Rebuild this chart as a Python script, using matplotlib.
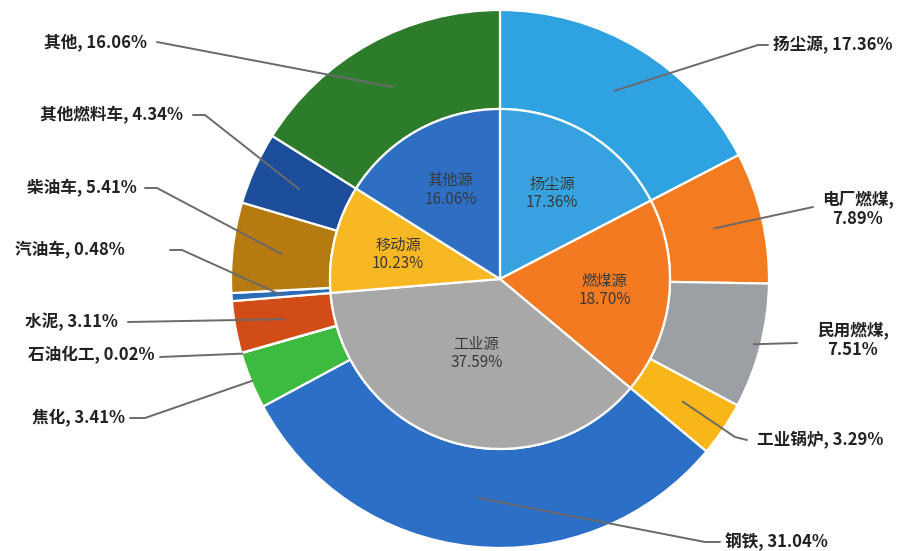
import numpy as np
import matplotlib.pyplot as plt

plt.rcParams['font.family'] = ['Noto Sans CJK SC', 'DejaVu Sans']

# inner ring: source groups
inner_names = ['扬尘源', '燃煤源', '工业源', '移动源', '其他源']
inner_vals = [17.36, 18.70, 37.59, 10.23, 16.06]
inner_colors = ['#36a3e0', '#f37a21', '#a8a8a8', '#f8b823', '#2f6fc3']

# outer ring: sub sources
outer_names = ['扬尘源', '电厂燃煤', '民用燃煤', '工业锅炉', '钢铁', '焦化',
               '石油化工', '水泥', '汽油车', '柴油车', '其他燃料车', '其他']
outer_vals = [17.36, 7.89, 7.51, 3.29, 31.04, 3.41,
              0.02, 3.11, 0.48, 5.41, 4.34, 16.06]
outer_colors = ['#2fa2e2', '#f37b20', '#9c9fa3', '#f9b618', '#2b6fc6', '#3cbb3e',
                '#8fa8c8', '#d24c18', '#2a6cb5', '#b57a10', '#1d4e9b', '#2d7c2b']

W, H = 903, 551
cx, cy = 500, 279          # centre in pixel coords (y down)
R_out, R_in = 269, 170

def py(y):
    return H - y

fig = plt.figure(figsize=(9.03, 5.51), dpi=100)
ax = fig.add_axes([0, 0, 1, 1])

ax.pie(outer_vals, colors=outer_colors, radius=R_out, center=(cx, py(cy)),
       startangle=90, counterclock=False,
       wedgeprops=dict(width=R_out - R_in, edgecolor='white', linewidth=1.6))
ax.pie(inner_vals, colors=inner_colors, radius=R_in, center=(cx, py(cy)),
       startangle=90, counterclock=False,
       wedgeprops=dict(edgecolor='white', linewidth=1.6))

def point(frac, r):
    th = 2 * np.pi * frac
    return cx + r * np.sin(th), cy - r * np.cos(th)

# inner labels
inner_r = [100, 105, 78, 105, 102]
cum = np.cumsum([0] + inner_vals)
for i, name in enumerate(inner_names):
    mid = (cum[i] + cum[i + 1]) / 2 / 100
    x, y = point(mid, inner_r[i])
    ax.text(x, py(y), f'{name}\n{inner_vals[i]:.2f}%', ha='center', va='center',
            fontsize=11, color='#3a3a3a', linespacing=1.1)

# outer labels: text anchor, ha, line end, elbow, start radius
lab_xy = [(773, 45), (858, 209), (853, 340), (757, 440), (725, 542), (125, 418),
          (155, 355), (118, 322), (125, 250), (137, 188), (183, 115), (147, 42)]
lab_ha = ['left', 'center', 'center', 'left', 'left', 'right',
          'right', 'right', 'right', 'right', 'right', 'right']
line_end = [(768, 45), (813, 207), (797, 343), (747, 440), (720, 542), (130, 418),
            (160, 357), (128, 322), (170, 250), (145, 188), (193, 115), (157, 42)]
elbow = [(758, 45), None, None, (735, 437), (705, 542), (145, 418),
         None, None, (182, 250), (157, 188), (205, 115), None]
start_r = [220, 220, 262, 220, 220, 268, 268, 220, 220, 220, 220, 220]

cum = np.cumsum([0] + outer_vals)
for i, name in enumerate(outer_names):
    mid = (cum[i] + cum[i + 1]) / 2 / 100
    sx, sy = point(mid, start_r[i])
    pts = [(sx, sy)]
    if elbow[i] is not None:
        pts.append(elbow[i])
    pts.append(line_end[i])
    xs = [p[0] for p in pts]
    ys = [py(p[1]) for p in pts]
    ax.plot(xs, ys, color='#6a6a6a', lw=1.4, solid_capstyle='round')
    if lab_ha[i] == 'center':
        txt = f'{name},\n{outer_vals[i]:.2f}%'
    else:
        txt = f'{name}, {outer_vals[i]:.2f}%'
    ax.text(lab_xy[i][0], py(lab_xy[i][1]), txt, ha=lab_ha[i], va='center',
            multialignment='center', fontsize=12, fontweight='bold',
            color='#222222', linespacing=1.15)

ax.set_xlim(0, W)
ax.set_ylim(0, H)
ax.set_aspect('auto')
ax.axis('off')

fig.savefig('out.png', dpi=100, facecolor='white')
